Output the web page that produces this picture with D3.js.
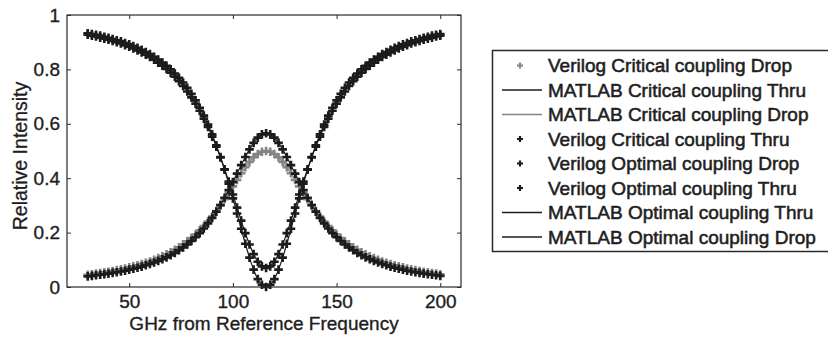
<!DOCTYPE html>
<html><head><meta charset="utf-8">
<script src="https://cdn.jsdelivr.net/npm/d3@7"></script>
<style>
html,body{margin:0;padding:0;background:#fff;}
svg{display:block;font-family:"Liberation Sans",Arial,sans-serif;}
</style></head>
<body><svg id="c" width="828" height="337"></svg>
<script>
const freqGHz = [30,32,34,36,38,40,42,44,46,48,50,52,54,56,58,60,62,64,66,68,70,72,74,76,78,80,82,84,86,88,90,92,94,96,98,100,102,104,106,108,110,112,114,116,
118,120,122,124,126,128,130,132,134,136,138,140,142,144,146,148,150,152,154,156,158,160,162,164,166,168,170,172,174,176,178,180,182,184,186,188,190,192,194,196,198,200];

const thruCritical = [0.933,0.930,0.927,0.924,0.920,0.916,0.912,0.907,0.903,0.897,0.892,0.886,0.879,0.872,0.864,0.856,0.846,0.836,0.825,0.813,0.800,0.785,0.769,0.752,0.732,0.710,0.686,0.659,0.630,0.597,0.561,0.521,0.478,0.431,0.380,0.326,0.270,0.214,0.159,0.108,0.064,0.029,0.008,0.000,
0.008,0.029,0.064,0.108,0.159,0.214,0.270,0.326,0.380,0.431,0.478,0.521,0.561,0.597,0.630,0.659,0.686,0.710,0.732,0.752,0.769,0.785,0.800,0.813,0.825,0.836,0.846,0.856,0.864,0.872,0.879,0.886,0.892,0.897,0.903,0.907,0.912,0.916,0.920,0.924,0.927,0.930];

const dropCritical = [0.045,0.047,0.049,0.051,0.054,0.056,0.059,0.062,0.065,0.068,0.072,0.076,0.080,0.084,0.089,0.094,0.100,0.106,0.113,0.120,0.128,0.137,0.146,0.157,0.168,0.180,0.193,0.208,0.224,0.241,0.259,0.279,0.301,0.323,0.346,0.370,0.394,0.418,0.440,0.460,0.477,0.489,0.497,0.500,
0.497,0.489,0.477,0.460,0.440,0.418,0.394,0.370,0.346,0.323,0.301,0.279,0.259,0.241,0.224,0.208,0.193,0.180,0.168,0.157,0.146,0.137,0.128,0.120,0.113,0.106,0.100,0.094,0.089,0.084,0.080,0.076,0.072,0.068,0.065,0.062,0.059,0.056,0.054,0.051,0.049,0.047];

const thruOptimal = [0.928,0.924,0.921,0.917,0.913,0.909,0.905,0.900,0.895,0.889,0.883,0.877,0.870,0.862,0.854,0.846,0.836,0.825,0.814,0.802,0.788,0.773,0.757,0.739,0.719,0.697,0.674,0.648,0.619,0.588,0.553,0.516,0.476,0.433,0.388,0.340,0.292,0.244,0.198,0.156,0.121,0.093,0.076,0.070,
0.076,0.093,0.121,0.156,0.198,0.244,0.292,0.340,0.388,0.433,0.476,0.516,0.553,0.588,0.619,0.648,0.674,0.697,0.719,0.739,0.757,0.773,0.788,0.802,0.814,0.825,0.836,0.846,0.854,0.862,0.870,0.877,0.883,0.889,0.895,0.900,0.905,0.909,0.913,0.917,0.921,0.924];

const dropOptimal = [0.039,0.041,0.043,0.045,0.047,0.049,0.052,0.054,0.057,0.060,0.064,0.067,0.071,0.075,0.080,0.085,0.090,0.096,0.102,0.109,0.117,0.125,0.135,0.145,0.156,0.169,0.183,0.198,0.215,0.234,0.254,0.277,0.301,0.328,0.356,0.386,0.417,0.448,0.478,0.506,0.530,0.549,0.561,0.565,
0.561,0.549,0.530,0.506,0.478,0.448,0.417,0.386,0.356,0.328,0.301,0.277,0.254,0.234,0.215,0.198,0.183,0.169,0.156,0.145,0.135,0.125,0.117,0.109,0.102,0.096,0.090,0.085,0.080,0.075,0.071,0.067,0.064,0.060,0.057,0.054,0.052,0.049,0.047,0.045,0.043,0.041];

const xTicks = [50,100,150,200];
const yTicks = [0,0.2,0.4,0.6,0.8,1];
const xTitle = "GHz from Reference Frequency";
const yTitle = "Relative Intensity";

// legend order = draw order
const seriesNames = ["Verilog Critical coupling Drop","MATLAB Critical coupling Thru","MATLAB Critical coupling Drop","Verilog Critical coupling Thru","Verilog Optimal coupling Drop","Verilog Optimal coupling Thru","MATLAB Optimal coupling Thru","MATLAB Optimal coupling Drop"];
const seriesValues = [dropCritical, thruCritical, dropCritical, thruCritical, dropOptimal, thruOptimal, thruOptimal, dropOptimal];
const seriesKinds = ["marker","line","line","marker","marker","marker","line","line"];
const seriesColors = ["#858585","#1c1c1c","#858585","#1c1c1c","#1c1c1c","#1c1c1c","#1c1c1c","#1c1c1c"];

const svg = d3.select("#c");
const L = 67, R = 461, T = 15, B = 287;
const x = d3.scaleLinear().domain([20,210]).range([L,R]);
const y = d3.scaleLinear().domain([0,1]).range([B,T]);
const axisColor = "#2a2a2a";
const textColor = "#1e1e1e";

const plot = svg.append("g");
const cross = "M-4.3,0H4.3M0,-4.3V4.3";
seriesNames.forEach((name,i)=>{
  const vals = seriesValues[i];
  const pts = freqGHz.map((f,j)=>[f, vals[j]]);
  if (seriesKinds[i]==="line") {
    plot.append("path").datum(pts)
      .attr("d", d3.line().x(d=>x(d[0])).y(d=>y(d[1])).curve(d3.curveMonotoneX))
      .attr("fill","none").attr("stroke",seriesColors[i]).attr("stroke-width",1.2);
  } else {
    plot.append("g").selectAll("path").data(pts).join("path")
      .attr("transform",d=>`translate(${x(d[0])},${y(d[1])})`)
      .attr("d",cross).attr("fill","none")
      .attr("stroke",seriesColors[i]).attr("stroke-width",2.6);
  }
});

// box
svg.append("rect").attr("x",L).attr("y",T).attr("width",R-L).attr("height",B-T)
  .attr("fill","none").attr("stroke",axisColor).attr("stroke-width",1.2);

const fmtY = d => String(+d.toFixed(1));
const gx = svg.append("g").attr("transform",`translate(0,${B})`)
  .call(d3.axisBottom(x).tickValues(xTicks).tickSize(-4).tickPadding(8));
const gxt = svg.append("g").attr("transform",`translate(0,${T})`)
  .call(d3.axisTop(x).tickValues(xTicks).tickSize(-4).tickFormat(""));
const gy = svg.append("g").attr("transform",`translate(${L},0)`)
  .call(d3.axisLeft(y).tickValues(yTicks).tickSize(-4).tickPadding(7).tickFormat(fmtY));
const gyr = svg.append("g").attr("transform",`translate(${R},0)`)
  .call(d3.axisRight(y).tickValues(yTicks).tickSize(-4).tickFormat(""));
[gx,gxt,gy,gyr].forEach(g=>{
  g.select(".domain").remove();
  g.selectAll(".tick line").attr("stroke",axisColor).attr("stroke-width",1);
  g.selectAll("text").attr("fill",textColor).attr("stroke",textColor).attr("stroke-width",0.35)
   .style("font-size","19px").style("font-family",'"Liberation Sans",Arial,sans-serif');
});

svg.append("text").attr("x",(L+R)/2).attr("y",330).attr("text-anchor","middle")
  .attr("fill",textColor).attr("stroke",textColor).attr("stroke-width",0.35)
  .style("font-size","19px").text(xTitle);
svg.append("text").attr("transform",`translate(27,${(T+B)/2+5}) rotate(-90)`)
  .attr("text-anchor","middle").attr("fill",textColor).attr("stroke",textColor).attr("stroke-width",0.3)
  .style("font-size","19.5px").text(yTitle);

// legend
const lg = svg.append("g");
lg.append("rect").attr("x",492.5).attr("y",50.5).attr("width",360).attr("height",201)
  .attr("fill","#fff").attr("stroke",axisColor).attr("stroke-width",1.5);
const rowY0 = 65.5, rowDy = 24.5;
seriesNames.forEach((name,i)=>{
  const cy = rowY0 + i*rowDy;
  if (seriesKinds[i]==="line") {
    lg.append("line").attr("x1",502).attr("x2",542).attr("y1",cy).attr("y2",cy)
      .attr("stroke",seriesColors[i]).attr("stroke-width",1.6);
  } else {
    lg.append("path").attr("transform",`translate(520,${cy})`).attr("d","M-3,0H3M0,-3V3")
      .attr("fill","none").attr("stroke",seriesColors[i]).attr("stroke-width",2.2);
  }
  lg.append("text").attr("x",548).attr("y",cy+6.5).attr("fill",textColor)
    .attr("stroke",textColor).attr("stroke-width",0.55)
    .style("font-size","19px").text(name);
});
</script></body></html>
